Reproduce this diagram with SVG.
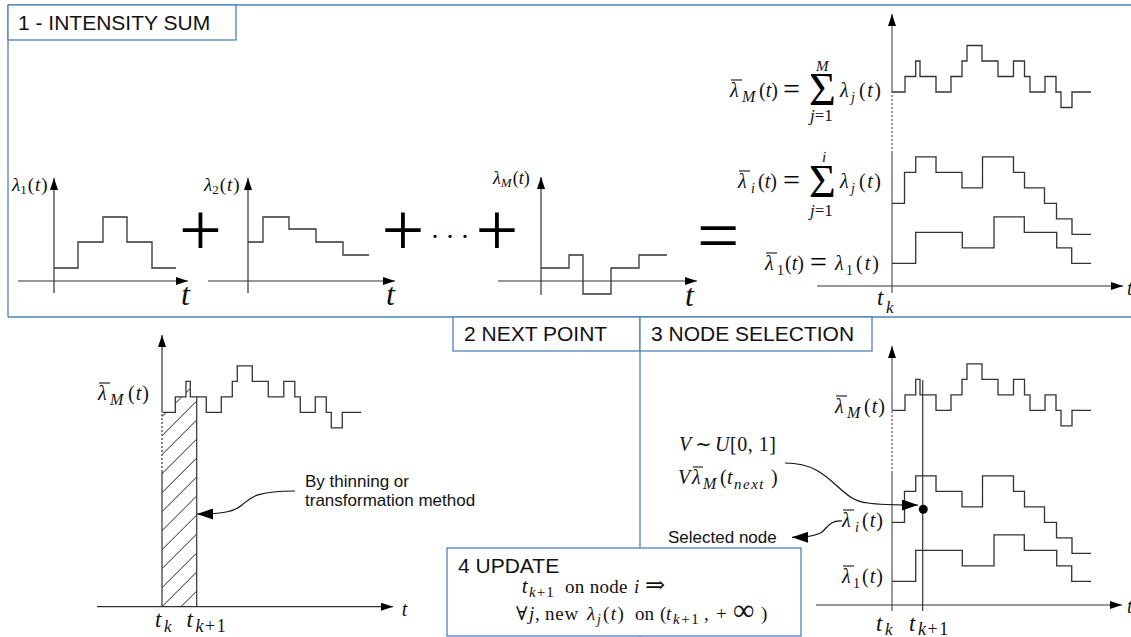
<svg xmlns="http://www.w3.org/2000/svg" width="1131" height="637" viewBox="0 0 1131 637" font-size="20">
<style>
.f{fill:none;stroke:#333;stroke-width:1.3}
.ax{fill:none;stroke:#333;stroke-width:1.2}
.gx{fill:none;stroke:#777;stroke-width:1.5}
.dt{stroke-dasharray:2 2}
.box{fill:#fff;stroke:#4f81bd;stroke-width:1.3}
.frame{fill:none;stroke:#4f81bd;stroke-width:1.3}
.h{font-family:"Liberation Sans",Arial,sans-serif;font-size:21px;fill:#111}
.n{font-family:"Liberation Sans",Arial,sans-serif;font-size:17px;fill:#111}
.m{font-family:"Liberation Serif","DejaVu Serif","Times New Roman",serif;fill:#111}
.i{font-style:italic}
.bar{stroke:#111;stroke-width:1.1}
.big{font-family:"Liberation Serif","DejaVu Serif",serif;fill:#000}
</style>
<defs>
<marker id="a" viewBox="0 0 12 8" refX="12" refY="4" markerWidth="12" markerHeight="8" markerUnits="userSpaceOnUse" orient="auto" preserveAspectRatio="none"><path d="M0,0 L12,4 L0,8 Z" fill="#000"/></marker>
<marker id="b" viewBox="0 0 16 11" refX="16" refY="5.5" markerWidth="16" markerHeight="11" markerUnits="userSpaceOnUse" orient="auto" preserveAspectRatio="none"><path d="M0,0 L16,5.5 L0,11 Z" fill="#000"/></marker>
<path id="lm" d="M0,0 H13 V-15.5 H23.7 V-31 H28 V-15.5 H44 V0 H59 V-15.5 H70 V-31 H75 V-46.5 H90 V-31 H106 V-15.5 H121.5 V-31 H132.5 V-15.5 H138 V0 H153 V-15.5 H164 V0 H169 V15.5 H180 V0 H199"/>
<path id="li" d="M0,0 H12.5 V-31 H23.7 V-46.5 H44 V-31 H70 V-15.5 H90.5 V-46.5 H121.5 V-31 H132.5 V-15.5 H152.5 V0 H164.5 V15.5 H180 V31 H199"/>
<path id="l1" d="M0,0 H23.7 V-31 H70.3 V-15.5 H102 V-46.5 H132.3 V-31 H164.7 V-15.5 H179.7 V0 H199"/>
<clipPath id="hc"><path d="M162,412.3 H175 V397 H186 V382 H190 V397 H196.7 V606.7 H162 Z"/></clipPath>
</defs>

<g id="frames">
<line class="frame" x1="8" y1="5" x2="1131" y2="5"/>
<line class="frame" x1="8" y1="5" x2="8" y2="317"/>
<line class="frame" x1="8" y1="317" x2="1131" y2="317"/>
<line class="frame" x1="640" y1="351" x2="640" y2="637"/>
</g>

<g id="title1"><rect class="box" x="8" y="5" width="228" height="35"/><text class="h" x="18" y="30">1 - INTENSITY SUM</text></g>
<g id="title2"><rect class="box" x="453" y="317" width="187" height="34"/><text class="h" x="464" y="341">2 NEXT POINT</text></g>
<g id="title3"><rect class="box" x="640" y="317" width="232" height="34"/><text class="h" x="651" y="341">3 NODE SELECTION</text></g>

<!-- top-left plots -->
<g id="plot1">
<line class="ax" x1="18" y1="281" x2="188" y2="281" marker-end="url(#a)"/>
<line class="ax" x1="54" y1="293" x2="54" y2="178" marker-end="url(#a)"/>
<path class="f" d="M54,268 H78 V242 H103 V217 H127 V242 H152 V268 H176"/>
<text class="m" x="12" y="191" font-size="19"><tspan class="i">λ</tspan><tspan font-size="13" dy="3">1</tspan><tspan dy="-3" dx="1" letter-spacing="1">(<tspan class="i">t</tspan>)</tspan></text>
<text class="m i" x="181" y="305" font-size="32">t</text>
</g>
<text class="big" x="200.5" y="255" font-size="76" text-anchor="middle">+</text>
<g id="plot2">
<line class="ax" x1="208" y1="281" x2="395" y2="281" marker-end="url(#a)"/>
<line class="ax" x1="248" y1="293" x2="248" y2="178" marker-end="url(#a)"/>
<path class="f" d="M248,242 H263 V217 H289 V229 H316 V242 H343 V255 H369"/>
<text class="m" x="204" y="191" font-size="19"><tspan class="i">λ</tspan><tspan font-size="13" dy="3">2</tspan><tspan dy="-3" dx="1" letter-spacing="1">(<tspan class="i">t</tspan>)</tspan></text>
<text class="m i" x="386" y="305" font-size="32">t</text>
</g>
<text class="big" x="403" y="255" font-size="76" text-anchor="middle">+</text>
<text class="big" x="431.5" y="238" font-size="28" letter-spacing="8">...</text>
<text class="big" x="497" y="255" font-size="76" text-anchor="middle">+</text>
<g id="plotM">
<line class="ax" x1="498" y1="281" x2="697" y2="281" marker-end="url(#a)"/>
<line class="ax" x1="541" y1="295" x2="541" y2="177" marker-end="url(#a)"/>
<path class="f" d="M541,268 H569 V255 H583 V294 H611 V268 H639 V255 H667"/>
<text class="m" x="493" y="184" font-size="18"><tspan class="i">λ</tspan><tspan class="i" font-size="13" dy="3">M</tspan><tspan dy="-3" dx="1">(<tspan class="i">t</tspan>)</tspan></text>
<text class="m i" x="685" y="306" font-size="32">t</text>
</g>
<text class="big" x="697" y="260" font-size="75">=</text>

<!-- top-right sum -->
<g id="sumplot">
<line class="gx" x1="892" y1="293" x2="892" y2="153"/>
<line class="gx dt" x1="892" y1="153" x2="892" y2="93"/>
<line class="gx" x1="892" y1="93" x2="892" y2="14" marker-end="url(#a)"/>
<line class="ax" x1="817" y1="286" x2="1123" y2="286" marker-end="url(#a)"/>
<use href="#lm" x="892" y="92" class="f"/>
<use href="#li" x="892" y="203.3" class="f"/>
<use href="#l1" x="892" y="263.3" class="f"/>
<text class="m i" x="1127" y="295">t</text>
<text class="m i" x="877" y="305" font-size="23">t</text>
<text class="m i" x="886" y="313" font-size="17">k</text>
</g>
<g id="eqM">
<line class="bar" x1="731" y1="80" x2="742" y2="80"/>
<text class="m" y="97"><tspan class="i" x="730">λ</tspan><tspan class="i" x="742" y="102" font-size="16">M</tspan><tspan x="759" y="97">(<tspan class="i">t</tspan>)</tspan></text>
<text class="big" x="783" y="99" font-size="30">=</text>
<text class="big" x="809" y="105" font-size="46">Σ</text>
<text class="m i" x="816" y="71" font-size="15">M</text>
<text class="m" x="810" y="121" font-size="17"><tspan class="i">j</tspan>=1</text>
<text class="m" y="97"><tspan class="i" x="840">λ</tspan><tspan class="i" x="851" y="102" font-size="14">j</tspan><tspan x="859" y="97" letter-spacing="1.5">(<tspan class="i">t</tspan>)</tspan></text>
</g>
<g id="eqi">
<line class="bar" x1="739" y1="171" x2="750" y2="171"/>
<text class="m" y="188"><tspan class="i" x="738">λ</tspan><tspan class="i" x="751" y="193" font-size="14">i</tspan><tspan x="758" y="188">(<tspan class="i">t</tspan>)</tspan></text>
<text class="big" x="783" y="190" font-size="30">=</text>
<text class="big" x="809" y="197" font-size="46">Σ</text>
<text class="m i" x="822" y="162" font-size="15">i</text>
<text class="m" x="810" y="216" font-size="17"><tspan class="i">j</tspan>=1</text>
<text class="m" y="188"><tspan class="i" x="840">λ</tspan><tspan class="i" x="851" y="193" font-size="14">j</tspan><tspan x="859" y="188" letter-spacing="1.5">(<tspan class="i">t</tspan>)</tspan></text>
</g>
<g id="eq1">
<line class="bar" x1="766" y1="253" x2="777" y2="253"/>
<text class="m" y="270"><tspan class="i" x="765">λ</tspan><tspan x="777" y="275" font-size="14">1</tspan><tspan x="785" y="270">(<tspan class="i">t</tspan>)</tspan></text>
<text class="big" x="810" y="272" font-size="30">=</text>
<text class="m" y="270"><tspan class="i" x="835">λ</tspan><tspan x="846" y="275" font-size="14">1</tspan><tspan x="856" y="270" letter-spacing="2">(<tspan class="i">t</tspan>)</tspan></text>
</g>

<!-- bottom-left: next point -->
<g id="nextpoint">
<g clip-path="url(#hc)" stroke="#222" stroke-width="1">
<path d="M162,625.7 L196.7,591 M162,606.7 L196.7,572 M162,587.7 L196.7,553 M162,568.7 L196.7,534 M162,549.7 L196.7,515 M162,530.7 L196.7,496 M162,511.7 L196.7,477 M162,492.7 L196.7,458 M162,473.7 L196.7,439 M162,454.7 L196.7,420 M162,435.7 L196.7,401 M162,416.7 L196.7,382 M162,397.7 L196.7,363"/>
</g>
<line class="ax" x1="97" y1="606.7" x2="393" y2="606.7" marker-end="url(#a)"/>
<line class="ax" x1="162" y1="606.7" x2="162" y2="472"/>
<line class="ax dt" x1="162" y1="472" x2="162" y2="412"/>
<line class="ax" x1="162" y1="412" x2="162" y2="335" marker-end="url(#a)"/>
<line class="ax" x1="196.7" y1="606.7" x2="196.7" y2="397" stroke="#000"/>
<use href="#lm" x="162.3" y="412.3" class="f"/>
<line class="bar" x1="99" y1="383" x2="110" y2="383"/>
<text class="m" y="400"><tspan class="i" x="98">λ</tspan><tspan class="i" x="110" y="405" font-size="16">M</tspan><tspan x="128" y="400" letter-spacing="1">(<tspan class="i">t</tspan>)</tspan></text>
<text class="m i" x="401.7" y="616">t</text>
<text class="m i" x="155" y="627" font-size="23">t</text>
<text class="m i" x="164" y="632" font-size="17">k</text>
<text class="m i" x="186.5" y="627" font-size="23">t</text>
<text class="m" x="195.5" y="632" font-size="18" letter-spacing="1.5"><tspan class="i">k</tspan>+1</text>
<text class="n" x="305" y="487">By thinning or</text>
<text class="n" x="305" y="505.7">transformation method</text>
</g>

<!-- bottom-right: node selection -->
<g id="nodeselect">
<line class="gx" x1="892" y1="611" x2="892" y2="473"/>
<line class="gx dt" x1="892" y1="473" x2="892" y2="410"/>
<line class="gx" x1="892" y1="410" x2="892" y2="346" marker-end="url(#a)"/>
<line class="ax" x1="816" y1="605" x2="1122" y2="605" marker-end="url(#a)"/>
<line class="ax" x1="922.7" y1="380" x2="922.7" y2="611"/>
<use href="#lm" x="892" y="410.3" class="f"/>
<use href="#li" x="892" y="522.3" class="f"/>
<use href="#l1" x="892" y="581.3" class="f"/>
<circle cx="923.3" cy="509.3" r="4.5" fill="#000"/>
<text class="m i" x="1127" y="613">t</text>
<line class="bar" x1="836" y1="396" x2="847" y2="396"/>
<text class="m" y="413"><tspan class="i" x="835">λ</tspan><tspan class="i" x="847" y="418" font-size="16">M</tspan><tspan x="864" y="413" letter-spacing="1">(<tspan class="i">t</tspan>)</tspan></text>
<line class="bar" x1="843" y1="510" x2="854" y2="510"/>
<text class="m" y="527"><tspan class="i" x="842">λ</tspan><tspan class="i" x="855" y="532" font-size="14">i</tspan><tspan x="862" y="527" letter-spacing="1">(<tspan class="i">t</tspan>)</tspan></text>
<line class="bar" x1="843" y1="566" x2="854" y2="566"/>
<text class="m" y="583"><tspan class="i" x="842">λ</tspan><tspan x="853" y="588" font-size="14">1</tspan><tspan x="862" y="583" letter-spacing="1">(<tspan class="i">t</tspan>)</tspan></text>
<text class="m" y="451"><tspan class="i" x="679">V</tspan><tspan x="695">∼</tspan><tspan class="i" x="715">U</tspan><tspan x="730" letter-spacing="0.5">[0, 1]</tspan></text>
<line class="bar" x1="693" y1="467" x2="703" y2="467"/>
<text class="m" y="484"><tspan class="i" x="678">V</tspan><tspan class="i" x="692">λ</tspan><tspan class="i" x="703" y="489" font-size="16">M</tspan><tspan x="720" y="484">(</tspan><tspan class="i" x="727">t</tspan><tspan class="i" x="734" y="489" font-size="15" letter-spacing="1.5">next</tspan><tspan x="771" y="484">)</tspan></text>
<text class="m i" x="876" y="631" font-size="23">t</text>
<text class="m i" x="885" y="635" font-size="17">k</text>
<text class="m i" x="909" y="631" font-size="23">t</text>
<text class="m" x="918" y="635" font-size="18" letter-spacing="1.5"><tspan class="i">k</tspan>+1</text>
<text class="n" x="668" y="543">Selected node</text>
</g>

<g id="connectors" fill="none" stroke="#111" stroke-width="1.2">
<path d="M295,491 C255,491 250,498 242,505 C235,511 225,514 197,514" marker-end="url(#b)"/>
<path d="M785,463 C833,463 836,500 868,503 C880,505 890,505 918,505" marker-end="url(#b)"/>
<path d="M842,521 C830,520 828,527 822,532 C816,536 808,537.3 792,537.3" marker-end="url(#b)"/>
</g>

<g id="update">
<rect class="box" x="447" y="548" width="354" height="88"/>
<text class="h" x="458" y="573">4 UPDATE</text>
<text class="m" y="593" font-size="19"><tspan class="i" x="521.7" font-size="21">t</tspan><tspan x="529" y="597" font-size="15" letter-spacing="1"><tspan class="i">k</tspan>+1</tspan><tspan x="565" y="593" letter-spacing="0.3">on node</tspan><tspan class="i" x="634">i</tspan><tspan x="645" font-size="24">⇒</tspan></text>
<text class="m" y="620" font-size="19"><tspan x="516">∀</tspan><tspan class="i" x="529">j</tspan><tspan x="535">,</tspan><tspan x="545" letter-spacing="0.8">new</tspan><tspan class="i" x="587">λ</tspan><tspan class="i" x="597" y="624" font-size="14">j</tspan><tspan x="603" y="620" letter-spacing="1.5">(<tspan class="i">t</tspan>)</tspan><tspan x="635">on</tspan><tspan x="660">(</tspan><tspan class="i" x="666">t</tspan><tspan x="673" y="624" font-size="15" letter-spacing="1.5"><tspan class="i">k</tspan>+1</tspan><tspan x="704" y="620">,</tspan><tspan x="716">+</tspan><tspan x="733" font-size="30">∞</tspan><tspan x="761">)</tspan></text>
</g>
</svg>
